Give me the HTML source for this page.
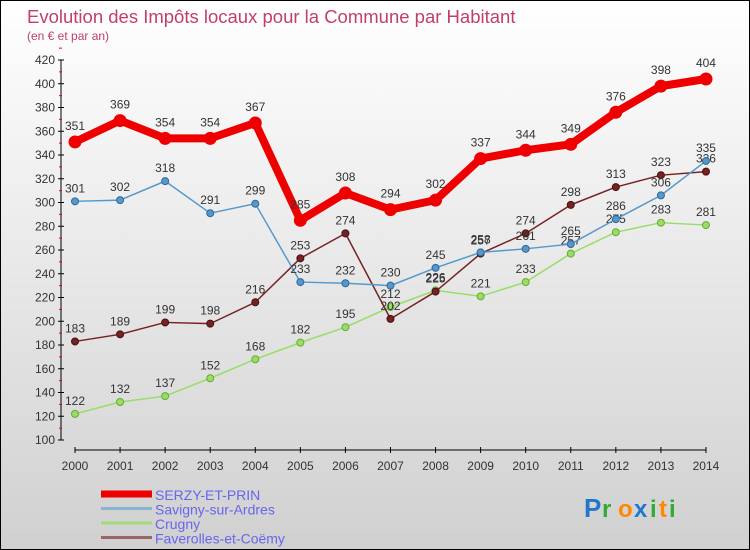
<!DOCTYPE html>
<html><head><meta charset="utf-8"><style>
body{margin:0}
#c{width:748px;height:548px;border:1px solid #000;background:linear-gradient(#fff,#d0d0d0);position:relative;font-family:"Liberation Sans",sans-serif;overflow:hidden}
</style></head><body>
<div id="c">
<svg id="s" width="748" height="548"></svg>
</div>
<script>
const years=[2000,2001,2002,2003,2004,2005,2006,2007,2008,2009,2010,2011,2012,2013,2014];
const serzy=[351,369,354,354,367,285,308,294,302,337,344,349,376,398,404];
const savigny=[301,302,318,291,299,233,232,230,245,258,261,265,286,306,335];
const crugny=[122,132,137,152,168,182,195,212,226,221,233,257,275,283,281];
const faverolles=[183,189,199,198,216,253,274,202,225,257,274,298,313,323,326];
const yTicks=[100,120,140,160,180,200,220,240,260,280,300,320,340,360,380,400,420];
const NS="http://www.w3.org/2000/svg";
const s=document.getElementById('s');
const X=i=>74+i*45.07, Y=v=>439-(v-100)*1.1875;
function el(t,a,p){const e=document.createElementNS(NS,t);for(const k in a)e.setAttribute(k,a[k]);(p||s).appendChild(e);return e;}
function tx(x,y,t,a){const e=el('text',Object.assign({x:x,y:y},a));e.textContent=t;return e;}
let e;
e=tx(26,22,'Evolution des Impôts locaux pour la Commune par Habitant',{fill:'#c0406a','font-size':18.5});

e=tx(26,39,'(en € et par an)',{fill:'#c0406a','font-size':12});

e=el('line',{x1:60,y1:Y(420),x2:60,y2:Y(100),stroke:'#000'});

yTicks.forEach(v=>{el('line',{x1:57,x2:63,y1:Y(v),y2:Y(v),stroke:'#000'});
 el('line',{x1:58,x2:61,y1:Y(v+10),y2:Y(v+10),stroke:'#e00'});
 e=tx(54,Y(v)+4,v,{fill:'#333','font-size':12,'text-anchor':'end'});
 });
e=el('line',{x1:X(0),y1:449,x2:X(14),y2:449,stroke:'#000'});

years.forEach((y,i)=>{el('line',{x1:X(i),x2:X(i),y1:446,y2:452,stroke:'#000'});
 e=tx(X(i),469,y,{fill:'#333','font-size':12,'text-anchor':'middle'});
 });
function series(d,col,w,r,name,dark,labOff){
 const g=el('g',{});
 el('polyline',{points:d.map((v,i)=>X(i)+','+Y(v)).join(' '),fill:'none',stroke:col,'stroke-width':w,'stroke-linejoin':'round'},g);
 d.forEach((v,i)=>{const c=el('circle',{cx:X(i),cy:Y(v),r:r,fill:col,stroke:dark,'stroke-width':1},g);
  
  const t=tx(X(i),Y(v)+labOff,v,{fill:'#333','font-size':12,'text-anchor':'middle'});g.appendChild(t);});
}
series(crugny,'#99dd66',1.5,3.5,'crugny','#66aa33',-9);
series(faverolles,'#772222',1.5,3.5,'faverolles','#441111',-9);
series(savigny,'#5599cc',1.5,3.5,'savigny','#336699',-9);
series(serzy,'#ee0000',8,6,'serzy','#ee0000',-12);
const leg=[['SERZY-ET-PRIN','#ee0000',7],['Savigny-sur-Ardres','#88b4d4',3],['Crugny','#a0dd77',3],['Faverolles-et-Coëmy','#996666',3]];
leg.forEach((l,i)=>{const g=el('g',{});
 el('line',{x1:100,x2:151,y1:493+i*14.5,y2:493+i*14.5,stroke:l[1],'stroke-width':l[2]},g);
 const t=tx(154,499+i*14.5,l[0],{fill:'#6666ee','font-size':14});g.appendChild(t);});
e=tx(583,516,'P',{fill:'#2277cc','font-size':26,'font-weight':'bold'});
const lg=[['r','#33aa33'],['o','#ff8800'],['x','#2277cc'],['i','#33aa33'],['t','#ff8800'],['i','#33aa33']];
let lx=601;lg.forEach(l=>{const t=tx(lx,516,l[0],{fill:l[1],'font-size':24,'font-weight':'bold'});lx+=l[0]=='i'?9:(l[0]=='t'?10:16);});

</script>
</body></html>
